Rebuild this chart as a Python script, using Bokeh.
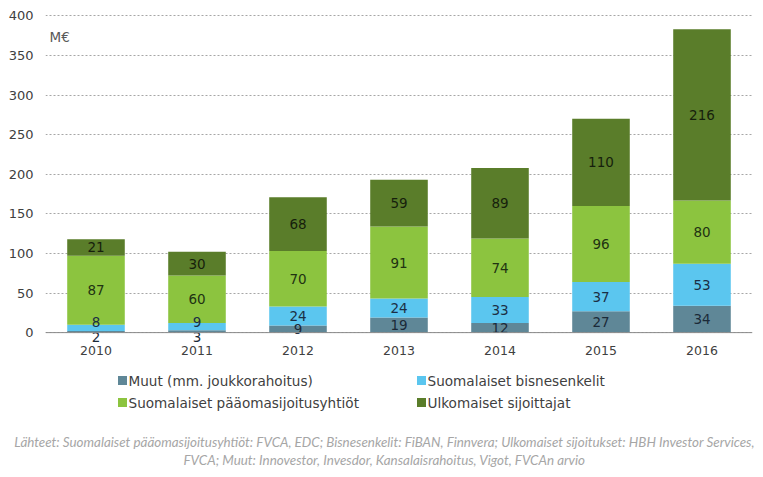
import numpy as np
from bokeh.plotting import figure
from bokeh.layouts import column
from bokeh.models import ColumnDataSource, Range1d, FixedTicker, Label, Span
from bokeh.core.properties import value
from bokeh.embed import file_html
from bokeh.resources import INLINE

# ---- data ----
years = [2010, 2011, 2012, 2013, 2014, 2015, 2016]
muut = [2, 3, 9, 19, 12, 27, 34]
bisnesenkelit = [8, 9, 24, 24, 33, 37, 53]
paaoma = [87, 60, 70, 91, 74, 96, 80]
ulkomaiset = [21, 30, 68, 59, 89, 110, 216]
series_names = ["Muut (mm. joukkorahoitus)", "Suomalaiset bisnesenkelit",
                "Suomalaiset pääomasijoitusyhtiöt", "Ulkomaiset sijoittajat"]
y_ticks = [0, 50, 100, 150, 200, 250, 300, 350, 400]
unit_label = "M€"
source_line1 = "Lähteet: Suomalaiset pääomasijoitusyhtiöt: FVCA, EDC; Bisnesenkelit: FiBAN, Finnvera; Ulkomaiset sijoitukset: HBH Investor Services,"
source_line2 = "FVCA; Muut: Innovestor, Invesdor, Kansalaisrahoitus, Vigot, FVCAn arvio"

colors = ["#5F8797", "#5BC6EF", "#8CC43F", "#5A7D2A"]
label_colors = ["#1B2A38", "#1B2F45", "#213312", "#161F0C"]
keys = ["muut", "bisnes", "paaoma", "ulko"]
FONT = "DejaVu Sans"

# ---- geometry (screen, page = figure coords) ----
W = 763
H1 = 362
BL, BR, BT = 45, 11, 13
X0, X1 = 2009.5, 2016.5
Y0, Y1 = -15, 403
PX_PER_Y = 319 / 403
FRAME_H = int(round((Y1 - Y0) * PX_PER_Y))
BB = H1 - BT - FRAME_H

p = figure(width=W, height=H1, output_backend="svg", toolbar_location=None,
           x_range=Range1d(X0, X1), y_range=Range1d(Y0, Y1),
           min_border_left=BL, min_border_right=BR, min_border_top=BT,
           min_border_bottom=BB)
p.outline_line_color = None
p.frame_align = False

src = ColumnDataSource(dict(year=years, muut=muut, bisnes=bisnesenkelit,
                            paaoma=paaoma, ulko=ulkomaiset))
p.vbar_stack(keys, x="year", width=0.57, color=colors, line_color=None, source=src)

# baseline (axis line at 0)
p.add_layout(Span(location=0, dimension="width", line_color="#8C8C8C", line_width=1))

# segment labels at centers (push apart the two lowest when they collide)
vals = np.array([muut, bisnesenkelit, paaoma, ulkomaiset], dtype=float)
tops = np.cumsum(vals, axis=0)
centers = tops - vals / 2
offsets = np.zeros_like(vals)
for j in range(len(years)):
    gap = (centers[1, j] - centers[0, j]) * PX_PER_Y
    if gap < 12:
        push = (15 - gap) / 2
        offsets[0, j] = push      # down
        offsets[1, j] = -push     # up
lx, ly, lt, lo, lc = [], [], [], [], []
for i in range(vals.shape[0]):
    for j, yr in enumerate(years):
        lx.append(yr)
        ly.append(centers[i, j])
        lt.append(str(int(vals[i, j])))
        lo.append(offsets[i, j])
        lc.append(label_colors[i])
lsrc = ColumnDataSource(dict(x=lx, y=ly, t=lt, o=lo, c=lc))
p.text(x="x", y="y", text="t", y_offset="o", source=lsrc, text_align="center",
       text_baseline="middle", text_font=value(FONT), text_font_size="13.5px",
       text_color="c")

# axes
p.xaxis.ticker = FixedTicker(ticks=years)
p.xaxis.major_label_overrides = {y: str(y) for y in years}
p.xaxis.axis_line_color = None
p.xaxis.major_tick_line_color = None
p.xaxis.minor_tick_line_color = None
p.xaxis.major_tick_out = 0
p.xaxis.major_tick_in = 0
p.xaxis.major_label_standoff = 1
p.xaxis.major_label_text_font = FONT
p.xaxis.major_label_text_font_size = "12.5px"
p.xaxis.major_label_text_color = "#404040"

p.yaxis.ticker = FixedTicker(ticks=y_ticks)
p.yaxis.axis_line_color = None
p.yaxis.major_tick_line_color = None
p.yaxis.minor_tick_line_color = None
p.yaxis.major_tick_out = 0
p.yaxis.major_label_standoff = 12
p.yaxis.major_label_text_font = FONT
p.yaxis.major_label_text_font_size = "13px"
p.yaxis.major_label_text_color = "#404040"

p.xgrid.grid_line_color = None
p.ygrid.grid_line_color = "#A6A6A6"
p.ygrid.grid_line_dash = "2 2"
p.ygrid.grid_line_width = 1

# unit label
p.add_layout(Label(x=X0 + 4 / 101, y=(332 - 36) / PX_PER_Y, text=unit_label,
                   text_font=FONT, text_font_size="13.5px", text_color="#595959",
                   text_baseline="middle", text_align="left"))

# ---- bottom panel: legend + sources (page coordinates) ----
H2 = 477 - H1
q = figure(width=W, height=H2, output_backend="svg", toolbar_location=None,
           x_range=Range1d(0, W), y_range=Range1d(477, H1),
           min_border_left=0, min_border_right=0, min_border_top=0,
           min_border_bottom=0)
q.frame_align = False
q.axis.visible = False
q.grid.visible = False
q.outline_line_color = None

leg_x = [122, 421, 122, 421]
leg_y = [380, 380, 402, 402]
q.scatter(x=leg_x, y=leg_y, marker="square", size=9, color=colors, line_color=None)
q.text(x=[v + 6 for v in leg_x], y=leg_y, text=series_names, text_align="left",
       text_baseline="middle", text_font=value(FONT), text_font_size="13.6px",
       text_color="#404040")

q.text(x=[384, 384], y=[441, 459], text=[source_line1, source_line2],
       text_align="center", text_baseline="middle", text_font=value("Lato"),
       text_font_style="italic", text_font_size="13.4px", text_color="#A6A6A6")

layout = column(p, q, spacing=0)
open("out.html", "w").write(file_html(layout, INLINE))
